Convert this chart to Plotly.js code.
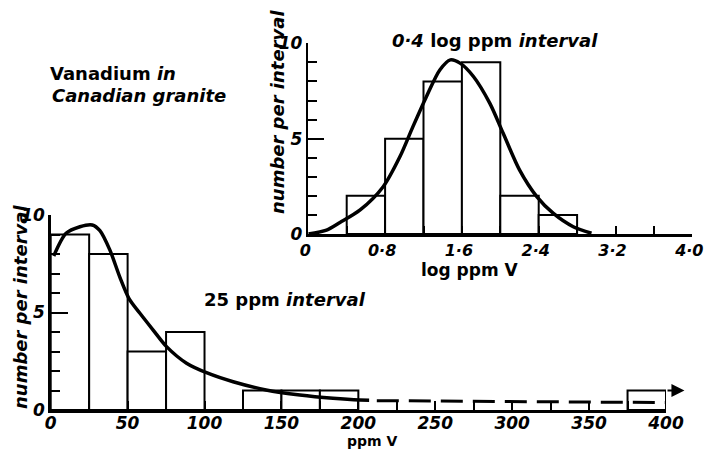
<!DOCTYPE html>
<html>
<head>
<meta charset="utf-8">
<script src="https://cdn.plot.ly/plotly-3.0.1.min.js"></script>
<style>html,body{margin:0;padding:0;background:#fff;}#chart{width:705px;height:450px;}</style>
</head>
<body>
<div id="chart"></div>
<script>
// ---- Data ----
// Main histogram: vanadium, 25 ppm interval
const mainBinStart = [0, 25, 50, 75, 100, 125, 150, 175, 375];
const mainCounts   = [9, 8, 3, 4, 0, 1, 1, 1, 1];
const mainBinWidth = 25;
const mainCurveX = [2, 10, 19, 27, 32, 38.5, 45, 51, 58, 66.6, 75.3, 88.3, 101.7, 118.6, 140, 162, 183.5, 201, 207];
const mainCurveY = [7.9, 9.06, 9.4, 9.49, 9.2, 8.2, 6.8, 5.7, 4.96, 4.1, 3.25, 2.4, 1.9, 1.45, 1.03, 0.77, 0.6, 0.51, 0.5];
const mainTailX = [212, 300, 400];
const mainTailY = [0.48, 0.44, 0.38];
const mainXTicks = [0, 50, 100, 150, 200, 250, 300, 350, 400];
const mainYTicks = [0, 5, 10];

// Inset histogram: 0.4 log ppm interval
const insetBinStart = [0.4, 0.8, 1.2, 1.6, 2.0, 2.4];
const insetCounts   = [2, 5, 8, 9, 2, 1];
const insetBinWidth = 0.4;
const insetCurveX = [0, 0.19, 0.33, 0.54, 0.78, 0.955, 1.09, 1.23, 1.37, 1.48, 1.58, 1.72, 1.89, 2.03, 2.2, 2.38, 2.55, 2.76, 2.95];
const insetCurveY = [0, 0.2, 0.6, 1.26, 2.48, 4.06, 5.63, 7.2, 8.6, 9.13, 8.96, 8.26, 6.86, 5.28, 3.36, 1.96, 1.09, 0.38, 0.04];
const insetXTickVals = [0, 0.8, 1.6, 2.4, 3.2, 4.0];
const insetXTickText = ['0', '0·8', '1·6', '2·4', '3·2', '4·0'];
const insetYTicks = [0, 5, 10];

// ---- Build ----
const FONT = 'DejaVu Sans';
const centers = (starts, w) => starts.map(s => s + w / 2);

const barStyle = {color: 'white', line: {color: 'black', width: 2}};
const curveLine = {color: 'black', width: 3.5, shape: 'spline', smoothing: 0.8};

const traces = [
  {type: 'bar', x: centers(mainBinStart, mainBinWidth), y: mainCounts, width: mainBinWidth,
   marker: barStyle, xaxis: 'x', yaxis: 'y', hoverinfo: 'skip'},
  {type: 'scatter', mode: 'lines', x: mainCurveX, y: mainCurveY, line: curveLine, xaxis: 'x', yaxis: 'y', cliponaxis: false},
  {type: 'scatter', mode: 'lines', x: mainTailX, y: mainTailY,
   line: {color: 'black', width: 3, dash: '22px,10px'}, xaxis: 'x', yaxis: 'y', cliponaxis: false},
  {type: 'bar', x: centers(insetBinStart, insetBinWidth), y: insetCounts, width: insetBinWidth,
   marker: barStyle, xaxis: 'x2', yaxis: 'y2', hoverinfo: 'skip'},
  {type: 'scatter', mode: 'lines', x: insetCurveX, y: insetCurveY, line: curveLine, xaxis: 'x2', yaxis: 'y2', cliponaxis: false}
];

const tickFont = {family: FONT, size: 17, weight: 'bold', style: 'italic', color: 'black'};
const axisCommon = {showgrid: false, zeroline: false, showline: true, linecolor: 'black', linewidth: 2.5,
  ticks: 'inside', tickcolor: 'black', tickwidth: 2, tickfont: tickFont, fixedrange: true,
  ticklabeloverflow: 'allow'};

const txtFont = {family: FONT, size: 18, weight: 'bold', color: 'black'};

const layout = {
  width: 705, height: 450,
  margin: {l: 0, r: 0, t: 0, b: 0},
  paper_bgcolor: 'white', plot_bgcolor: 'rgba(0,0,0,0)',
  showlegend: false, bargap: 0,
  xaxis: Object.assign({}, axisCommon, {domain: [50.7/705, 666/705], range: [0, 400], anchor: 'y',
    tickmode: 'array', tickvals: mainXTicks, ticklen: 9, ticklabelstandoff: -4,
    minor: {dtick: 25, ticks: 'inside', ticklen: 9, tickcolor: 'black', tickwidth: 2}}),
  yaxis: Object.assign({}, axisCommon, {domain: [40/450, 235/450], range: [0, 10], anchor: 'x',
    tickmode: 'array', tickvals: mainYTicks, ticklen: 17,
    minor: {dtick: 1, ticks: 'inside', ticklen: 9, tickcolor: 'black', tickwidth: 2}}),
  xaxis2: Object.assign({}, axisCommon, {domain: [308.3/705, 692.3/705], range: [0, 4], anchor: 'y2',
    tickmode: 'array', tickvals: insetXTickVals, ticktext: insetXTickText, ticklen: 8,
    ticklabelshift: -3, tickfont: Object.assign({}, tickFont, {size: 16}),
    minor: {dtick: 0.4, ticks: 'inside', ticklen: 8, tickcolor: 'black', tickwidth: 2}}),
  yaxis2: Object.assign({}, axisCommon, {domain: [216/450, 406.7/450], range: [0, 10], anchor: 'x2',
    tickmode: 'array', tickvals: insetYTicks, ticklen: 16,
    minor: {dtick: 1, ticks: 'inside', ticklen: 9, tickcolor: 'black', tickwidth: 2}}),
  annotations: [
    {xref: 'x', yref: 'y', x: 412, y: 1, ax: 400, ay: 1, axref: 'x', ayref: 'y', text: '',
     showarrow: true, arrowhead: 2, arrowsize: 1.3, arrowwidth: 2, arrowcolor: 'black'},
    {xref: 'paper', yref: 'paper', x: 48/705, y: 1 - 73/450, xanchor: 'left', yanchor: 'middle', showarrow: false,
     text: 'Vanadium <i>in</i>', font: txtFont},
    {xref: 'paper', yref: 'paper', x: 50/705, y: 1 - 95/450, xanchor: 'left', yanchor: 'middle', showarrow: false,
     text: '<i>Canadian granite</i>', font: txtFont},
    {xref: 'paper', yref: 'paper', x: 202/705, y: 1 - 299/450, xanchor: 'left', yanchor: 'middle', showarrow: false,
     text: '25 ppm <i>interval</i>', font: txtFont},
    {xref: 'paper', yref: 'paper', x: 390/705, y: 1 - 40/450, xanchor: 'left', yanchor: 'middle', showarrow: false,
     text: '<i>0·4</i> log ppm <i>interval</i>', font: txtFont},
    {xref: 'paper', yref: 'paper', x: 470/705, y: 1 - 270/450, xanchor: 'center', yanchor: 'middle', showarrow: false,
     text: 'log ppm V', font: {family: FONT, size: 17, weight: 'bold', color: 'black'}},
    {xref: 'paper', yref: 'paper', x: 372/705, y: 1 - 441/450, xanchor: 'center', yanchor: 'middle', showarrow: false,
     borderpad: 0, text: 'ppm V', font: {family: FONT, size: 14, weight: 'bold', color: 'black'}},
    {xref: 'paper', yref: 'paper', x: 20/705, y: 1 - 307/450, xanchor: 'center', yanchor: 'middle', showarrow: false,
     textangle: -90, text: '<i>number per interval</i>', font: txtFont},
    {xref: 'paper', yref: 'paper', x: 277/705, y: 1 - 112/450, xanchor: 'center', yanchor: 'middle', showarrow: false,
     textangle: -90, text: '<i>number per interval</i>', font: txtFont}
  ]
};

Plotly.newPlot('chart', traces, layout, {displayModeBar: false, staticPlot: true});
</script>
</body>
</html>
